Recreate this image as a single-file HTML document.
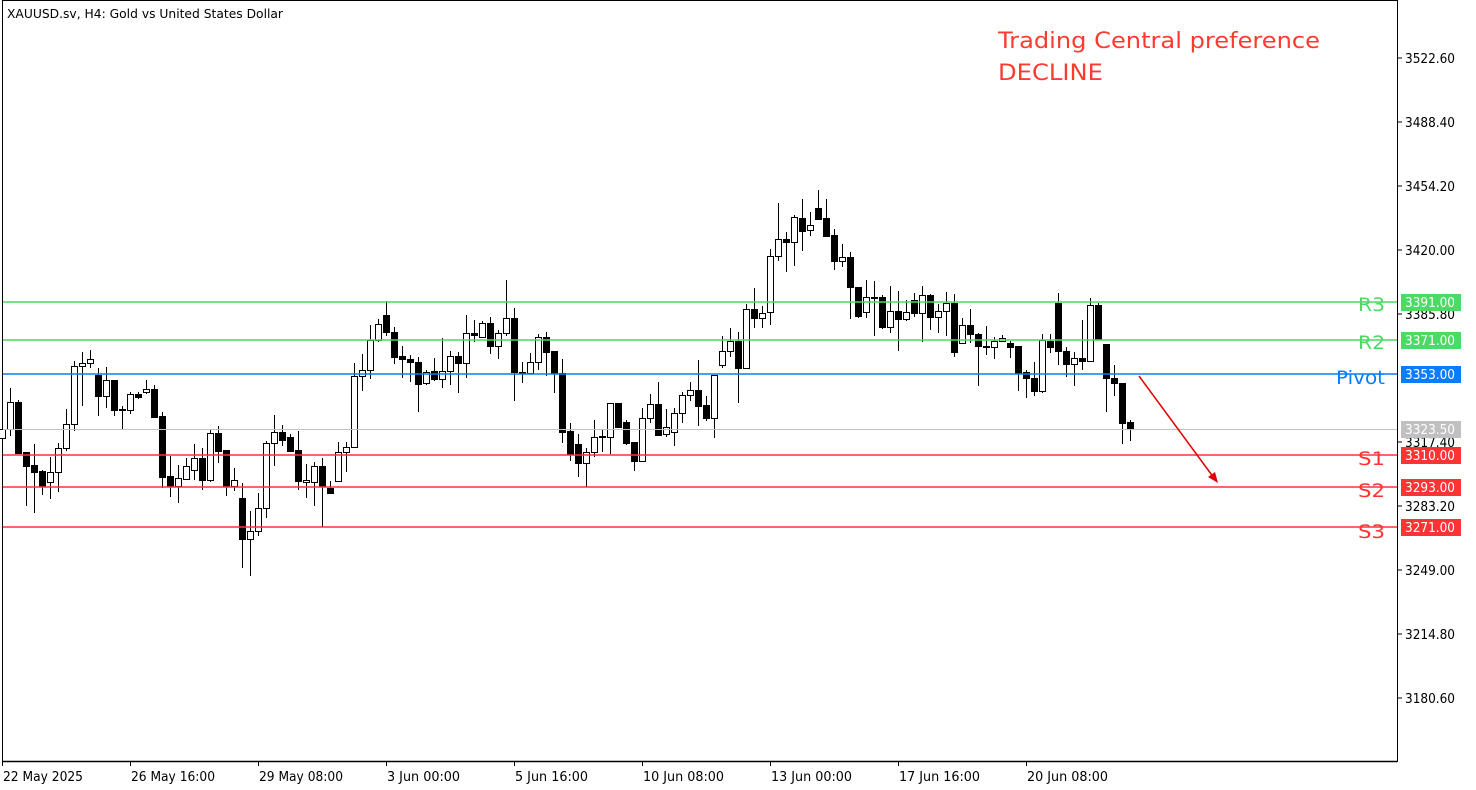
<!DOCTYPE html>
<html><head><meta charset="utf-8">
<style>
html,body{margin:0;padding:0;background:#fff;}
svg{display:block;font-family:"DejaVu Sans","Liberation Sans",sans-serif;}
</style></head>
<body>
<svg id="c" width="1476" height="790" xmlns="http://www.w3.org/2000/svg">
<rect x="0" y="0" width="1476" height="790" fill="#fff"/>
<line x1="2.5" y1="0" x2="2.5" y2="762" stroke="#000" stroke-width="1"/>
<line x1="2" y1="0.5" x2="1397" y2="0.5" stroke="#000" stroke-width="1"/>
<line x1="1397.5" y1="0" x2="1397.5" y2="762" stroke="#000" stroke-width="1"/>
<line x1="2" y1="761.5" x2="1397" y2="761.5" stroke="#000" stroke-width="1.5"/>
<text x="7" y="18" font-size="12" fill="#000" textLength="276" lengthAdjust="spacingAndGlyphs">XAUUSD.sv, H4:  Gold vs United States Dollar</text>
<g id="candles" shape-rendering="crispEdges"></g>
<line x1="3" y1="429.5" x2="1397" y2="429.5" stroke="#c0c0c0" stroke-width="1"/>
<line x1="3" y1="302" x2="1397" y2="302" stroke="#4cd964" stroke-width="1.5"/>
<line x1="3" y1="340" x2="1397" y2="340" stroke="#4cd964" stroke-width="1.5"/>
<line x1="3" y1="374" x2="1397" y2="374" stroke="#0a7cff" stroke-width="1.5"/>
<line x1="3" y1="455" x2="1397" y2="455" stroke="#ff3333" stroke-width="1.5"/>
<line x1="3" y1="487" x2="1397" y2="487" stroke="#ff3333" stroke-width="1.5"/>
<line x1="3" y1="527" x2="1397" y2="527" stroke="#ff3333" stroke-width="1.5"/>
<g font-size="19">
<text x="1358" y="311" fill="#4cd964" textLength="27" lengthAdjust="spacingAndGlyphs">R3</text>
<text x="1358" y="349" fill="#4cd964" textLength="27" lengthAdjust="spacingAndGlyphs">R2</text>
<text x="1336" y="384" fill="#0a7cff" textLength="49" lengthAdjust="spacingAndGlyphs">Pivot</text>
<text x="1358" y="465" fill="#ff3333" textLength="27" lengthAdjust="spacingAndGlyphs">S1</text>
<text x="1358" y="497" fill="#ff3333" textLength="27" lengthAdjust="spacingAndGlyphs">S2</text>
<text x="1358" y="538" fill="#ff3333" textLength="27" lengthAdjust="spacingAndGlyphs">S3</text>
</g>
<line x1="1139" y1="376" x2="1214" y2="478" stroke="#e00000" stroke-width="1.5"/>
<polygon points="1218,483 1208,477 1215,472" fill="#e00000"/>
<text x="998" y="48" font-size="22" fill="#ff3b30" textLength="322" lengthAdjust="spacingAndGlyphs">Trading Central preference</text>
<text x="998" y="80" font-size="22" fill="#ff3b30" textLength="105" lengthAdjust="spacingAndGlyphs">DECLINE</text>
<g font-size="13" fill="#000">
<line x1="1397" y1="58" x2="1402" y2="58" stroke="#000"/><text x="1405" y="63" textLength="50" lengthAdjust="spacingAndGlyphs">3522.60</text>
<line x1="1397" y1="122" x2="1402" y2="122" stroke="#000"/><text x="1405" y="127" textLength="50" lengthAdjust="spacingAndGlyphs">3488.40</text>
<line x1="1397" y1="186" x2="1402" y2="186" stroke="#000"/><text x="1405" y="191" textLength="50" lengthAdjust="spacingAndGlyphs">3454.20</text>
<line x1="1397" y1="250" x2="1402" y2="250" stroke="#000"/><text x="1405" y="255" textLength="50" lengthAdjust="spacingAndGlyphs">3420.00</text>
<line x1="1397" y1="314" x2="1402" y2="314" stroke="#000"/><text x="1405" y="319" textLength="50" lengthAdjust="spacingAndGlyphs">3385.80</text>
<line x1="1397" y1="442" x2="1402" y2="442" stroke="#000"/><text x="1405" y="447" textLength="50" lengthAdjust="spacingAndGlyphs">3317.40</text>
<line x1="1397" y1="506" x2="1402" y2="506" stroke="#000"/><text x="1405" y="511" textLength="50" lengthAdjust="spacingAndGlyphs">3283.20</text>
<line x1="1397" y1="570" x2="1402" y2="570" stroke="#000"/><text x="1405" y="575" textLength="50" lengthAdjust="spacingAndGlyphs">3249.00</text>
<line x1="1397" y1="634" x2="1402" y2="634" stroke="#000"/><text x="1405" y="639" textLength="50" lengthAdjust="spacingAndGlyphs">3214.80</text>
<line x1="1397" y1="698" x2="1402" y2="698" stroke="#000"/><text x="1405" y="703" textLength="50" lengthAdjust="spacingAndGlyphs">3180.60</text>
</g>
<g font-size="13" fill="#fff">
<rect x="1401" y="294" width="60" height="17" fill="#4cd964"/><text x="1405" y="307" textLength="50" lengthAdjust="spacingAndGlyphs">3391.00</text>
<rect x="1401" y="332" width="60" height="17" fill="#4cd964"/><text x="1405" y="345" textLength="50" lengthAdjust="spacingAndGlyphs">3371.00</text>
<rect x="1401" y="366" width="60" height="17" fill="#0a7cff"/><text x="1405" y="379" textLength="50" lengthAdjust="spacingAndGlyphs">3353.00</text>
<rect x="1401" y="421" width="60" height="17" fill="#c0c0c0"/><text x="1405" y="434" textLength="50" lengthAdjust="spacingAndGlyphs">3323.50</text>
<rect x="1401" y="447" width="60" height="17" fill="#ff3333"/><text x="1405" y="460" textLength="50" lengthAdjust="spacingAndGlyphs">3310.00</text>
<rect x="1401" y="479" width="60" height="17" fill="#ff3333"/><text x="1405" y="492" textLength="50" lengthAdjust="spacingAndGlyphs">3293.00</text>
<rect x="1401" y="519" width="60" height="17" fill="#ff3333"/><text x="1405" y="532" textLength="50" lengthAdjust="spacingAndGlyphs">3271.00</text>
</g>
<g font-size="13" fill="#000">
<line x1="2.5" y1="762" x2="2.5" y2="766" stroke="#000"/><text x="3" y="781" textLength="80" lengthAdjust="spacingAndGlyphs">22 May 2025</text>
<line x1="130.5" y1="762" x2="130.5" y2="766" stroke="#000"/><text x="131" y="781" textLength="84" lengthAdjust="spacingAndGlyphs">26 May 16:00</text>
<line x1="258.5" y1="762" x2="258.5" y2="766" stroke="#000"/><text x="259" y="781" textLength="84" lengthAdjust="spacingAndGlyphs">29 May 08:00</text>
<line x1="386.5" y1="762" x2="386.5" y2="766" stroke="#000"/><text x="387" y="781" textLength="73" lengthAdjust="spacingAndGlyphs">3 Jun 00:00</text>
<line x1="514.5" y1="762" x2="514.5" y2="766" stroke="#000"/><text x="515" y="781" textLength="73" lengthAdjust="spacingAndGlyphs">5 Jun 16:00</text>
<line x1="642.5" y1="762" x2="642.5" y2="766" stroke="#000"/><text x="643" y="781" textLength="81" lengthAdjust="spacingAndGlyphs">10 Jun 08:00</text>
<line x1="770.5" y1="762" x2="770.5" y2="766" stroke="#000"/><text x="771" y="781" textLength="81" lengthAdjust="spacingAndGlyphs">13 Jun 00:00</text>
<line x1="898.5" y1="762" x2="898.5" y2="766" stroke="#000"/><text x="899" y="781" textLength="81" lengthAdjust="spacingAndGlyphs">17 Jun 16:00</text>
<line x1="1026.5" y1="762" x2="1026.5" y2="766" stroke="#000"/><text x="1027" y="781" textLength="81" lengthAdjust="spacingAndGlyphs">20 Jun 08:00</text>
</g>
</svg>
<script>
var d=[
[1,429,438,429,438],[1,388,436,402,429],[0,400,453,402,453],[0,452,506,452,466],[0,444,513,465,472],
[0,470,495,471,486],[1,457,499,472,482],[1,443,492,448,472],[1,409,451,424,448],[1,361,431,366,424],
[1,352,406,363,366],[1,350,368,359,363],[0,368,416,375,396],[1,367,408,380,396],[0,380,416,380,410],
[1,406,430,409,410],[1,392,414,394,410],[0,392,399,394,397],[1,380,394,389,392],[0,385,417,389,417],
[0,412,488,416,477],[0,456,497,476,486],[1,465,503,478,486],[1,458,480,466,479],[1,444,480,458,470],
[0,448,490,458,480],[1,429,482,433,480],[0,426,463,433,451],[0,450,496,450,486],[1,468,491,480,486],
[0,483,568,498,539],[1,511,576,531,539],[1,493,536,508,531],[1,441,518,443,508],[1,415,466,432,443],
[0,425,446,432,440],[0,434,452,437,451],[0,431,490,450,481],[1,464,498,480,482],[1,462,506,466,482],
[0,458,527,466,486],[0,481,494,488,493],[1,442,481,452,481],[1,442,472,447,452],[1,363,448,376,447],
[1,354,391,370,376],[1,325,379,340,370],[1,319,342,324,340],[0,301,336,315,332],[0,327,364,332,357],
[0,346,378,356,359],[0,355,382,359,362],[0,357,412,362,384],[1,370,385,372,383],[0,358,381,371,379],
[1,338,388,371,379],[1,351,385,356,371],[0,352,393,356,363],[1,315,378,333,363],[0,320,342,333,335],
[1,321,338,323,337],[0,317,354,323,346],[1,330,359,333,346],[1,280,336,318,333],[0,308,401,318,372],
[0,362,383,372,373],[1,353,370,362,373],[1,334,370,337,362],[0,332,376,337,352],[0,351,393,351,373],
[0,359,443,373,432],[0,423,461,431,454],[0,434,477,444,463],[1,448,487,452,463],[1,420,457,437,452],
[0,429,452,436,437],[1,403,454,403,437],[0,403,427,403,427],[0,420,445,422,443],[0,442,471,442,461],
[1,408,462,418,461],[1,394,423,404,418],[0,382,436,404,435],[1,409,437,427,434],[1,408,446,413,432],
[1,392,423,395,413],[1,382,401,390,395],[0,360,426,390,406],[0,396,421,405,418],[1,375,438,375,418],
[1,336,368,351,365],[1,328,357,341,351],[0,332,403,341,368],[1,304,369,309,368],[0,288,328,309,318],
[1,306,328,313,318],[1,249,325,256,312],[1,203,261,239,256],[0,232,272,239,242],[1,215,266,217,242],
[0,199,251,218,231],[1,212,236,225,230],[0,190,220,208,219],[0,199,237,218,236],[0,229,270,235,261],
[1,244,267,257,261],[0,252,319,257,287],[0,287,318,287,316],[1,280,318,297,312],[1,281,336,297,297],
[0,295,329,297,327],[1,286,333,311,327],[0,291,351,311,319],[1,300,321,312,319],[0,293,317,300,313],
[1,286,342,295,313],[0,294,330,295,317],[1,304,333,311,317],[1,292,336,303,311],[0,294,357,303,352],
[1,318,343,325,343],[0,309,343,325,334],[0,333,386,334,346],[0,326,355,346,347],[1,337,359,341,347],
[1,335,342,338,341],[0,341,358,343,347],[0,346,391,346,373],[0,370,398,372,378],[0,362,396,378,391],
[1,334,393,340,391],[0,334,353,341,347],[0,293,365,303,351],[0,347,377,351,364],[1,352,386,358,364],
[0,320,370,358,361],[1,298,361,305,361],[0,303,339,305,339],[0,344,412,344,378],[0,365,396,378,383],
[0,383,444,383,423],[0,420,441,422,429]];
var g=document.getElementById("candles"),h="";
for(var i=0;i<d.length;i++){var c=d[i],x=2+8*i;
h+='<rect x="'+x+'" y="'+c[1]+'" width="1" height="'+(c[2]-c[1])+'" fill="#000"/>';
var bh=Math.max(c[4]-c[3],1);
if(c[0]==1){h+='<rect x="'+(x-3)+'" y="'+c[3]+'" width="7" height="'+(bh+1)+'" fill="#000"/>';
 if(bh>1)h+='<rect x="'+(x-2)+'" y="'+(c[3]+1)+'" width="5" height="'+(bh-1)+'" fill="#fff"/>';}
else{h+='<rect x="'+(x-3)+'" y="'+c[3]+'" width="7" height="'+(bh+1)+'" fill="#000"/>';}
}
g.innerHTML=h;
</script>
</body></html>
